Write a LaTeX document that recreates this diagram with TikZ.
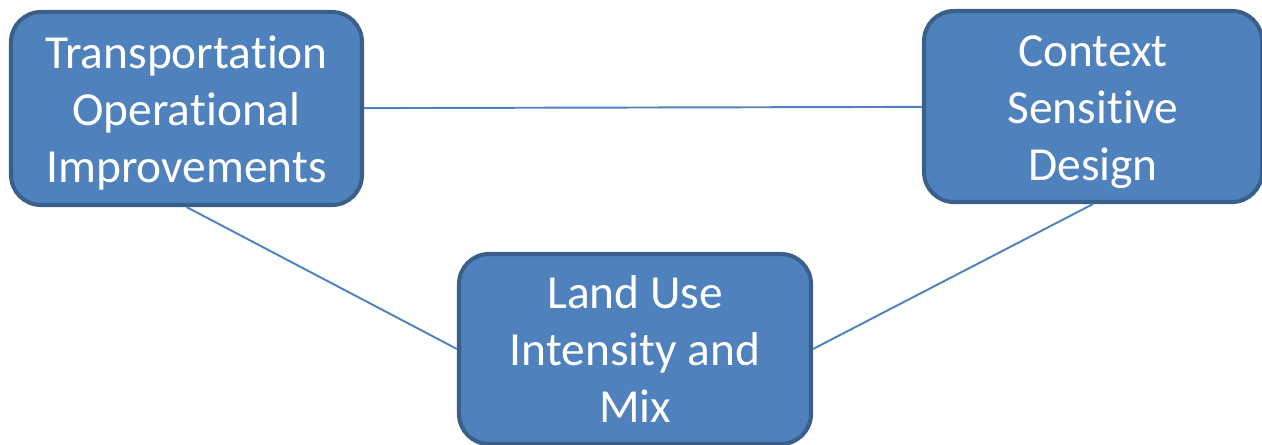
\documentclass[tikz,border=0pt]{standalone}
\usepackage{fontspec}
\setmainfont{Carlito}[Ligatures=NoCommon]
\usepackage{tikz}

\definecolor{boxfill}{HTML}{4F81BD}
\definecolor{boxline}{HTML}{3A5F8B}

\begin{document}
\begin{tikzpicture}[every node/.style={draw=boxline,line width=2.3pt,fill=boxfill,rounded corners=0.6cm,text=white,align=center,font=\fontsize{27}{32.5}\selectfont}]

\useasboundingbox (0,0) rectangle (25.24,-8.88);

\node[minimum width=7.02cm,minimum height=3.86cm] (top) at (3.73,-2.17) {\rule{0pt}{24pt}Transportation\\Operational\\Improvements};

\node[minimum width=6.76cm,minimum height=3.82cm] (csd) at (21.86,-2.13) {\rule{0pt}{24pt}Context\\Sensitive\\Design};

\node[minimum width=7.04cm,minimum height=3.8cm] (land) at (12.7,-6.98) {Land Use\\Intensity and\\Mix};

\draw[boxfill,line width=1.1pt] (top) -- (csd);
\draw[boxfill,line width=1.1pt] (top.south) -- (land.west);
\draw[boxfill,line width=1.1pt] (csd.south) -- (land.east);
\end{tikzpicture}
\end{document}
